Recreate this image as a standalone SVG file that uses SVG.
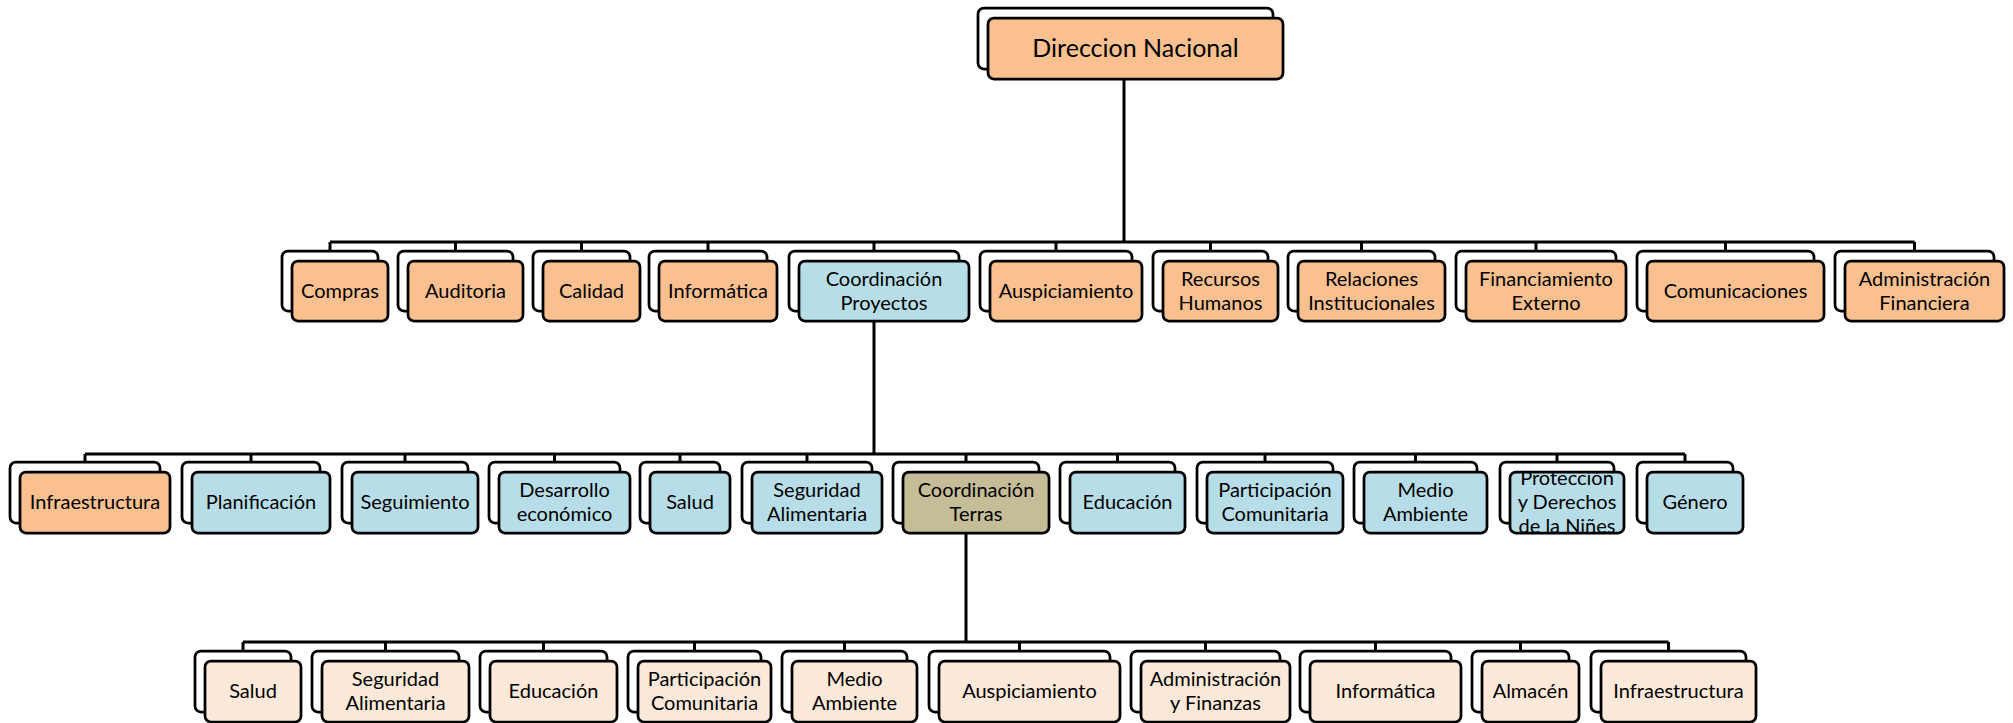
<svg xmlns="http://www.w3.org/2000/svg" width="2013" height="723" viewBox="0 0 2013 723">
  <style>
    .back { fill: #ffffff; stroke: #000000; stroke-width: 2.75; }
    .box { stroke: #000000; stroke-width: 2.75; }
    .org { fill: #FAC090; }
    .blu { fill: #B7DEE8; }
    .tan { fill: #C4BD97; }
    .pch { fill: #FDE9D9; }
    .lbl { font-family: Lato, "Liberation Sans", sans-serif; font-size: 20px; fill: #000000; text-anchor: middle; }
    .top { font-size: 25px; }
    .wire { fill: none; stroke: #000000; stroke-width: 3; }
  </style>
  <defs>
    <clipPath id="clip-proteccion">
      <rect x="1510" y="472" width="114" height="61" rx="6"/>
    </clipPath>
  </defs>

  <!-- connectors -->
  <g id="connectors" class="wire">
    <!-- Direccion Nacional to level 1 -->
    <path d="M1124,79 V242 M330,242 H1914.5 M330,242 V251 M455.5,242 V251 M581.5,242 V251 M708,242 V251 M874,242 V251 M1056,242 V251 M1210.5,242 V251 M1361.5,242 V251 M1536,242 V251 M1725.5,242 V251 M1914.5,242 V251"/>
    <!-- Coordinación Proyectos to level 2 -->
    <path d="M874,321 V454 M85,454 H1685 M85,454 V462 M251,454 V462 M405,454 V462 M554.5,454 V462 M680,454 V462 M807,454 V462 M966,454 V462 M1117.5,454 V462 M1265,454 V462 M1415.5,454 V462 M1557,454 V462 M1685,454 V462"/>
    <!-- Coordinación Terras to level 3 -->
    <path d="M966,533 V642 M243,642 H1668.5 M243,642 V651 M385.5,642 V651 M543.5,642 V651 M694.5,642 V651 M844.5,642 V651 M1019.5,642 V651 M1205.5,642 V651 M1375.5,642 V651 M1520.5,642 V651 M1668.5,642 V651"/>
  </g>

  <!-- level 0 -->
  <g id="direccion-nacional">
    <rect class="back" x="978" y="8" width="295" height="61" rx="6"/>
    <rect class="box org" x="988" y="18" width="295" height="61" rx="6"/>
    <text class="lbl top" x="1135.5" y="57">Direccion Nacional</text>
  </g>

  <!-- level 1 -->
  <g id="compras">
    <rect class="back" x="282" y="251" width="96" height="60" rx="6"/>
    <rect class="box org" x="292" y="261" width="96" height="60" rx="6"/>
    <text class="lbl" x="340" y="298">Compras</text>
  </g>
  <g id="auditoria">
    <rect class="back" x="398" y="251" width="115" height="60" rx="6"/>
    <rect class="box org" x="408" y="261" width="115" height="60" rx="6"/>
    <text class="lbl" x="465.5" y="298">Auditoria</text>
  </g>
  <g id="calidad">
    <rect class="back" x="533" y="251" width="97" height="60" rx="6"/>
    <rect class="box org" x="543" y="261" width="97" height="60" rx="6"/>
    <text class="lbl" x="591.5" y="298">Calidad</text>
  </g>
  <g id="informatica">
    <rect class="back" x="649" y="251" width="118" height="60" rx="6"/>
    <rect class="box org" x="659" y="261" width="118" height="60" rx="6"/>
    <text class="lbl" x="718" y="298">Informática</text>
  </g>
  <g id="coordinacion-proyectos">
    <rect class="back" x="789" y="251" width="170" height="60" rx="6"/>
    <rect class="box blu" x="799" y="261" width="170" height="60" rx="6"/>
    <text class="lbl" x="884" y="286">Coordinación</text>
    <text class="lbl" x="884" y="310">Proyectos</text>
  </g>
  <g id="auspiciamiento">
    <rect class="back" x="980" y="251" width="152" height="60" rx="6"/>
    <rect class="box org" x="990" y="261" width="152" height="60" rx="6"/>
    <text class="lbl" x="1066" y="298">Auspiciamiento</text>
  </g>
  <g id="recursos-humanos">
    <rect class="back" x="1153" y="251" width="115" height="60" rx="6"/>
    <rect class="box org" x="1163" y="261" width="115" height="60" rx="6"/>
    <text class="lbl" x="1220.5" y="286">Recursos</text>
    <text class="lbl" x="1220.5" y="310">Humanos</text>
  </g>
  <g id="relaciones-institucionales">
    <rect class="back" x="1288" y="251" width="147" height="60" rx="6"/>
    <rect class="box org" x="1298" y="261" width="147" height="60" rx="6"/>
    <text class="lbl" x="1371.5" y="286">Relaciones</text>
    <text class="lbl" x="1371.5" y="310">Institucionales</text>
  </g>
  <g id="financiamiento-externo">
    <rect class="back" x="1456" y="251" width="160" height="60" rx="6"/>
    <rect class="box org" x="1466" y="261" width="160" height="60" rx="6"/>
    <text class="lbl" x="1546" y="286">Financiamiento</text>
    <text class="lbl" x="1546" y="310">Externo</text>
  </g>
  <g id="comunicaciones">
    <rect class="back" x="1637" y="251" width="177" height="60" rx="6"/>
    <rect class="box org" x="1647" y="261" width="177" height="60" rx="6"/>
    <text class="lbl" x="1735.5" y="298">Comunicaciones</text>
  </g>
  <g id="administracion-financiera">
    <rect class="back" x="1835" y="251" width="159" height="60" rx="6"/>
    <rect class="box org" x="1845" y="261" width="159" height="60" rx="6"/>
    <text class="lbl" x="1924.5" y="286">Administración</text>
    <text class="lbl" x="1924.5" y="310">Financiera</text>
  </g>

  <!-- level 2 -->
  <g id="infraestructura">
    <rect class="back" x="10" y="462" width="150" height="61" rx="6"/>
    <rect class="box org" x="20" y="472" width="150" height="61" rx="6"/>
    <text class="lbl" x="95" y="509">Infraestructura</text>
  </g>
  <g id="planificacion">
    <rect class="back" x="182" y="462" width="138" height="61" rx="6"/>
    <rect class="box blu" x="192" y="472" width="138" height="61" rx="6"/>
    <text class="lbl" x="261" y="509">Planificación</text>
  </g>
  <g id="seguimiento">
    <rect class="back" x="342" y="462" width="126" height="61" rx="6"/>
    <rect class="box blu" x="352" y="472" width="126" height="61" rx="6"/>
    <text class="lbl" x="415" y="509">Seguimiento</text>
  </g>
  <g id="desarrollo-economico">
    <rect class="back" x="489" y="462" width="131" height="61" rx="6"/>
    <rect class="box blu" x="499" y="472" width="131" height="61" rx="6"/>
    <text class="lbl" x="564.5" y="497">Desarrollo</text>
    <text class="lbl" x="564.5" y="521">económico</text>
  </g>
  <g id="salud-proyectos">
    <rect class="back" x="640" y="462" width="80" height="61" rx="6"/>
    <rect class="box blu" x="650" y="472" width="80" height="61" rx="6"/>
    <text class="lbl" x="690" y="509">Salud</text>
  </g>
  <g id="seguridad-alimentaria-proyectos">
    <rect class="back" x="742" y="462" width="130" height="61" rx="6"/>
    <rect class="box blu" x="752" y="472" width="130" height="61" rx="6"/>
    <text class="lbl" x="817" y="497">Seguridad</text>
    <text class="lbl" x="817" y="521">Alimentaria</text>
  </g>
  <g id="coordinacion-terras">
    <rect class="back" x="893" y="462" width="146" height="61" rx="6"/>
    <rect class="box tan" x="903" y="472" width="146" height="61" rx="6"/>
    <text class="lbl" x="976" y="497">Coordinación</text>
    <text class="lbl" x="976" y="521">Terras</text>
  </g>
  <g id="educacion-proyectos">
    <rect class="back" x="1060" y="462" width="115" height="61" rx="6"/>
    <rect class="box blu" x="1070" y="472" width="115" height="61" rx="6"/>
    <text class="lbl" x="1127.5" y="509">Educación</text>
  </g>
  <g id="participacion-proyectos">
    <rect class="back" x="1197" y="462" width="136" height="61" rx="6"/>
    <rect class="box blu" x="1207" y="472" width="136" height="61" rx="6"/>
    <text class="lbl" x="1275" y="497">Participación</text>
    <text class="lbl" x="1275" y="521">Comunitaria</text>
  </g>
  <g id="medio-ambiente-proyectos">
    <rect class="back" x="1354" y="462" width="123" height="61" rx="6"/>
    <rect class="box blu" x="1364" y="472" width="123" height="61" rx="6"/>
    <text class="lbl" x="1425.5" y="497">Medio</text>
    <text class="lbl" x="1425.5" y="521">Ambiente</text>
  </g>
  <g id="proteccion-derechos">
    <rect class="back" x="1500" y="462" width="114" height="61" rx="6"/>
    <rect class="blu" x="1510" y="472" width="114" height="61" rx="6"/>
    <g clip-path="url(#clip-proteccion)">
      <text class="lbl" x="1567" y="485">Protección</text>
      <text class="lbl" x="1567" y="509">y Derechos</text>
      <text class="lbl" x="1567" y="533">de la Niñes</text>
    </g>
    <rect class="box" x="1510" y="472" width="114" height="61" rx="6" fill="none"/>
  </g>
  <g id="genero">
    <rect class="back" x="1637" y="462" width="96" height="61" rx="6"/>
    <rect class="box blu" x="1647" y="472" width="96" height="61" rx="6"/>
    <text class="lbl" x="1695" y="509">Género</text>
  </g>

  <!-- level 3 -->
  <g id="salud-terras">
    <rect class="back" x="195" y="651" width="96" height="61" rx="6"/>
    <rect class="box pch" x="205" y="661" width="96" height="61" rx="6"/>
    <text class="lbl" x="253" y="698">Salud</text>
  </g>
  <g id="seguridad-alimentaria-terras">
    <rect class="back" x="312" y="651" width="147" height="61" rx="6"/>
    <rect class="box pch" x="322" y="661" width="147" height="61" rx="6"/>
    <text class="lbl" x="395.5" y="686">Seguridad</text>
    <text class="lbl" x="395.5" y="710">Alimentaria</text>
  </g>
  <g id="educacion-terras">
    <rect class="back" x="480" y="651" width="127" height="61" rx="6"/>
    <rect class="box pch" x="490" y="661" width="127" height="61" rx="6"/>
    <text class="lbl" x="553.5" y="698">Educación</text>
  </g>
  <g id="participacion-terras">
    <rect class="back" x="628" y="651" width="133" height="61" rx="6"/>
    <rect class="box pch" x="638" y="661" width="133" height="61" rx="6"/>
    <text class="lbl" x="704.5" y="686">Participación</text>
    <text class="lbl" x="704.5" y="710">Comunitaria</text>
  </g>
  <g id="medio-ambiente-terras">
    <rect class="back" x="782" y="651" width="125" height="61" rx="6"/>
    <rect class="box pch" x="792" y="661" width="125" height="61" rx="6"/>
    <text class="lbl" x="854.5" y="686">Medio</text>
    <text class="lbl" x="854.5" y="710">Ambiente</text>
  </g>
  <g id="auspiciamiento-terras">
    <rect class="back" x="929" y="651" width="181" height="61" rx="6"/>
    <rect class="box pch" x="939" y="661" width="181" height="61" rx="6"/>
    <text class="lbl" x="1029.5" y="698">Auspiciamiento</text>
  </g>
  <g id="administracion-finanzas">
    <rect class="back" x="1131" y="651" width="149" height="61" rx="6"/>
    <rect class="box pch" x="1141" y="661" width="149" height="61" rx="6"/>
    <text class="lbl" x="1215.5" y="686">Administración</text>
    <text class="lbl" x="1215.5" y="710">y Finanzas</text>
  </g>
  <g id="informatica-terras">
    <rect class="back" x="1300" y="651" width="151" height="61" rx="6"/>
    <rect class="box pch" x="1310" y="661" width="151" height="61" rx="6"/>
    <text class="lbl" x="1385.5" y="698">Informática</text>
  </g>
  <g id="almacen">
    <rect class="back" x="1472" y="651" width="97" height="61" rx="6"/>
    <rect class="box pch" x="1482" y="661" width="97" height="61" rx="6"/>
    <text class="lbl" x="1530.5" y="698">Almacén</text>
  </g>
  <g id="infraestructura-terras">
    <rect class="back" x="1591" y="651" width="155" height="61" rx="6"/>
    <rect class="box pch" x="1601" y="661" width="155" height="61" rx="6"/>
    <text class="lbl" x="1678.5" y="698">Infraestructura</text>
  </g>
</svg>
